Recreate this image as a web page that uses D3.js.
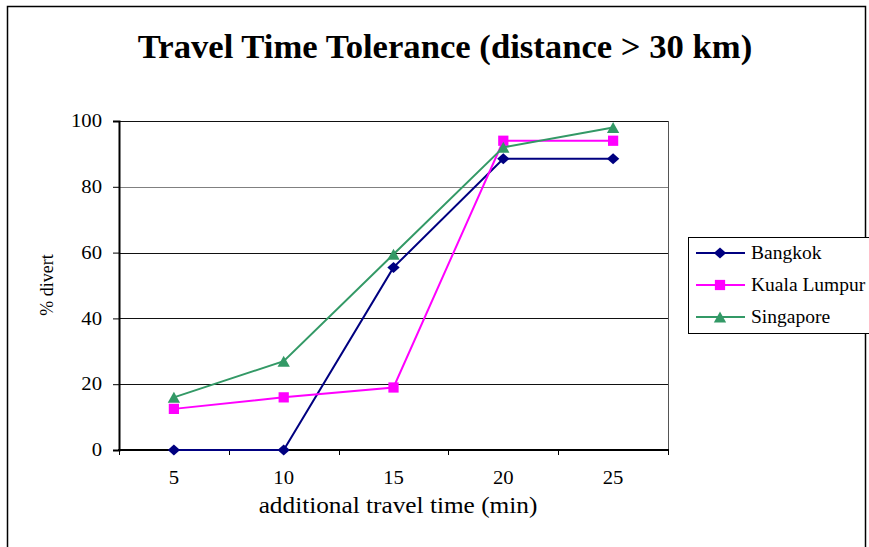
<!DOCTYPE html>
<html>
<head>
<meta charset="utf-8">
<script src="https://cdn.jsdelivr.net/npm/d3@7"></script>
<style>
  body { margin: 0; background: #fff; }
</style>
</head>
<body>
<svg width="869" height="547"></svg>
<script>
// data
let categories = ["5", "10", "15", "20", "25"];
let bangkok = [0, 0, 55.5, 88.5, 88.5];
let kualaLumpur = [12.5, 16, 19, 94, 94];
let singapore = [16, 27, 59.5, 92, 98];
let yTicks = [0, 20, 40, 60, 80, 100];

let seriesNames = ["Bangkok", "Kuala Lumpur", "Singapore"];
let seriesValues = [bangkok, kualaLumpur, singapore];
let seriesColors = ["#000080", "#ff00ff", "#339966"];

// excel-like markers: centred on their bounding box, a little wider than tall
const excelDiamond = {
    draw(ctx, size) {
        let r = Math.sqrt(size) / 2;
        ctx.moveTo(0, -r);
        ctx.lineTo(r * 1.12, 0);
        ctx.lineTo(0, r);
        ctx.lineTo(-r * 1.12, 0);
        ctx.closePath();
    }
};
const excelTriangle = {
    draw(ctx, size) {
        let r = Math.sqrt(size) / 2;
        ctx.moveTo(0, -r);
        ctx.lineTo(r * 1.12, r);
        ctx.lineTo(-r * 1.12, r);
        ctx.closePath();
    }
};
let seriesSymbols = [
    d3.symbol().type(excelDiamond).size(121),
    d3.symbol().type(d3.symbolSquare).size(105),
    d3.symbol().type(excelTriangle).size(121)
];

const serif = '"Liberation Serif"';

let svg = d3.select('svg').attr('font-family', serif);
let margin = { left: 119, right: 201, top: 121, bottom: 97 };
let width = 869 - margin.left - margin.right;
let height = 547 - margin.top - margin.bottom;

// the original chart text is a bit wider than the font, stretch it around its anchor
function stretch(x, y, s) {
    return 'translate(' + x + ',' + y + ') scale(' + s + ',1) translate(' + (-x) + ',' + (-y) + ')';
}

// outer frame
svg.append('rect')
    .attr('x', 7.5).attr('y', 6.5)
    .attr('width', 858).attr('height', 560)
    .style('fill', 'none')
    .style('stroke', '#000')
    .style('stroke-width', 1.5);

// title
svg.append('text')
    .attr('x', 445)
    .attr('y', 58)
    .attr('text-anchor', 'middle')
    .attr('transform', stretch(445, 58, 1.05))
    .attr('font-family', serif)
    .attr('font-size', 33)
    .attr('font-weight', 'bold')
    .text('Travel Time Tolerance (distance > 30 km)');

let g = svg.append('g')
    .attr('transform', 'translate(' + margin.left + ',' + margin.top + ')');

let xScale = d3.scaleBand()
    .domain(categories)
    .range([0, width]);

let yScale = d3.scaleLinear()
    .domain([0, 100])
    .range([height, 0]);

// gridlines
g.selectAll('.grid').data(yTicks.filter(d => d > 0))
    .enter().append('line')
    .attr('class', 'grid')
    .attr('x1', 0).attr('x2', width)
    .attr('y1', d => Math.round(yScale(d)) + 0.5)
    .attr('y2', d => Math.round(yScale(d)) + 0.5)
    .style('stroke', d => d === 80 ? '#808080' : '#111')
    .style('stroke-width', 1);

// right border of plot area
g.append('line')
    .attr('x1', width + 0.5).attr('x2', width + 0.5)
    .attr('y1', 0).attr('y2', height)
    .style('stroke', '#555')
    .style('stroke-width', 1);

// y axis
let yAxis = d3.axisLeft(yScale).tickValues(yTicks).tickSize(6).tickPadding(11);
let yg = g.append('g').attr('class', 'y-axis').call(yAxis)
    .attr('font-family', serif)
    .attr('font-size', 18);
yg.select('.domain').style('stroke-width', 2);
yg.selectAll('.tick line').style('stroke-width', 1);
yg.selectAll('text')
    .attr('transform', stretch(-17, 0, 1.15))
    .style('fill', '#000');

// x axis: labels at band centres, tick marks at band edges
let xAxis = d3.axisBottom(xScale).tickSize(0).tickPadding(21);
let xg = g.append('g')
    .attr('class', 'x-axis')
    .attr('transform', 'translate(0,' + height + ')')
    .call(xAxis)
    .attr('font-family', serif)
    .attr('font-size', 18);
xg.select('.domain').remove();
xg.selectAll('text')
    .attr('transform', 'scale(1.15,1)')
    .style('fill', '#000');
let edges = categories.map(c => xScale(c)).concat([width]);
g.selectAll('.xtick').data(edges)
    .enter().append('line')
    .attr('class', 'xtick')
    .attr('x1', d => Math.round(d) + 0.5).attr('x2', d => Math.round(d) + 0.5)
    .attr('y1', height).attr('y2', height + 5)
    .style('stroke', '#000');
g.append('line')
    .attr('x1', -1).attr('x2', width + 1)
    .attr('y1', height).attr('y2', height)
    .style('stroke', '#000')
    .style('stroke-width', 2);

// axis titles
svg.append('text')
    .attr('x', 398)
    .attr('y', 513)
    .attr('text-anchor', 'middle')
    .attr('transform', stretch(398, 513, 1.1))
    .attr('font-size', 23)
    .text('additional travel time (min)');

svg.append('text')
    .attr('transform', 'translate(53,285) rotate(-90)')
    .attr('text-anchor', 'middle')
    .attr('font-size', 18)
    .text('% divert');

// lines and markers
let line = d3.line()
    .x((d, i) => xScale(categories[i]) + xScale.bandwidth() / 2)
    .y(d => yScale(d));

seriesValues.forEach((vals, s) => {
    g.append('path')
        .datum(vals)
        .attr('d', line)
        .style('fill', 'none')
        .style('stroke', seriesColors[s])
        .style('stroke-width', 2);

    g.selectAll('.pt' + s).data(vals)
        .enter().append('path')
        .attr('class', 'pt' + s)
        .attr('transform', (d, i) => 'translate(' + (xScale(categories[i]) + xScale.bandwidth() / 2) + ',' + yScale(d) + ')')
        .attr('d', seriesSymbols[s])
        .style('fill', seriesColors[s]);
});

// legend
let legend = svg.append('g').attr('transform', 'translate(688,237)');
legend.append('rect')
    .attr('x', 0.5).attr('y', 0.5)
    .attr('width', 190).attr('height', 96)
    .style('fill', '#fff')
    .style('stroke', '#000')
    .style('stroke-width', 1);

seriesNames.forEach((name, s) => {
    let ly = 16 + s * 32;
    let item = legend.append('g');
    item.append('line')
        .attr('x1', 8).attr('x2', 57)
        .attr('y1', ly).attr('y2', ly)
        .style('stroke', seriesColors[s])
        .style('stroke-width', 2);
    item.append('path')
        .attr('transform', 'translate(32,' + ly + ')')
        .attr('d', seriesSymbols[s])
        .style('fill', seriesColors[s]);
    item.append('text')
        .attr('x', 63)
        .attr('y', ly + 6)
        .attr('font-size', 19.5)
        .text(name);
});
</script>
</body>
</html>
